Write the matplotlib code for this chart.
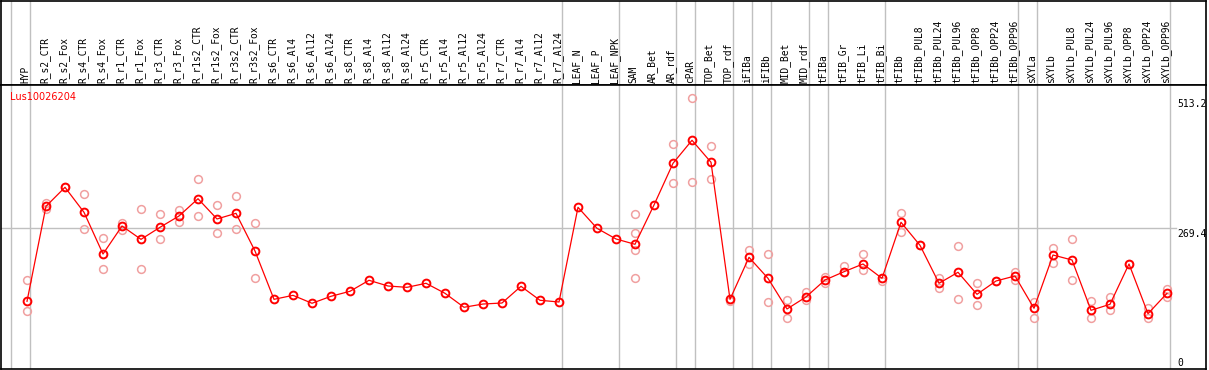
import matplotlib
matplotlib.use("Agg")
import matplotlib.pyplot as plt
import matplotlib.transforms as mtrans

categories = ["HYP", "R_s2_CTR", "R_s2_Fox", "R_s4_CTR", "R_s4_Fox", "R_r1_CTR", "R_r1_Fox",
              "R_r3_CTR", "R_r3_Fox", "R_r1s2_CTR", "R_r1s2_Fox", "R_r3s2_CTR", "R_r3s2_Fox",
              "R_s6_CTR", "R_s6_Al4", "R_s6_Al12", "R_s6_Al24", "R_s8_CTR", "R_s8_Al4",
              "R_s8_Al12", "R_s8_Al24", "R_r5_CTR", "R_r5_Al4", "R_r5_Al12", "R_r5_Al24",
              "R_r7_CTR", "R_r7_Al4", "R_r7_Al12", "R_r7_Al24", "LEAF_N", "LEAF_P", "LEAF_NPK",
              "SAM", "AR_Bet", "AR_rdf", "cPAR", "TOP_Bet", "TOP_rdf", "iFIBa", "iFIBb",
              "MID_Bet", "MID_rdf", "tFIBa", "tFIB_Gr", "tFIB_Li", "tFIB_Bi", "tFIBb",
              "tFIBb_PUL8", "tFIBb_PUL24", "tFIBb_PUL96", "tFIBb_OPP8", "tFIBb_OPP24",
              "tFIBb_OPP96", "sXYLa", "sXYLb", "sXYLb_PUL8", "sXYLb_PUL24", "sXYLb_PUL96",
              "sXYLb_OPP8", "sXYLb_OPP24", "sXYLb_OPP96"]

means = [132.4, 310.6, 346.2, 299.3, 221.1, 273.6, 248.6, 271.2, 292.4, 324.8, 286.8, 297.4,
         226.7, 136.1, 143.6, 128.7, 141.8, 151.2, 171.8, 161.1, 158.6, 166.2, 147.4, 121.2,
         127.3, 129.2, 160.5, 134.3, 131.1, 308.7, 269.3, 249.3, 239.3, 313.0, 391.2, 434.4,
         393.1, 136.1, 214.9, 175.5, 118.0, 140.5, 172.4, 187.9, 202.4, 175.5, 280.6, 237.4,
         166.2, 186.8, 145.5, 170.5, 179.9, 119.3, 219.2, 209.9, 115.5, 126.8, 202.4, 109.2,
         147.4]

# replicate values per category (empty list = no separate replicates shown)
replicates = [
    [171.8, 113.6], [317.4, 304.9], [346.2], [333.1, 267.4], [250.6, 192.4],
    [279.9, 266.1], [304.9, 192.4], [295.6, 248.6], [303.6, 281.7], [361.2, 291.8],
    [312.4, 259.9], [329.3, 267.4], [278.7, 175.5],
    [], [], [], [], [], [], [], [], [], [], [], [], [], [], [], [],
    [], [], [],
    [295.6, 259.9, 228.6, 175.5], [], [426.9, 353.7], [513.1, 355.6], [423.7, 361.2],
    [133.0], [228.6, 201.8], [220.6, 130.5], [134.8, 100.5], [149.3, 134.8],
    [178.5, 166.2], [199.2, 186.8], [221.1, 191.1], [170.5], [297.4, 261.8], [237.4],
    [176.7, 157.9], [235.6, 136.1], [166.2, 125.5], [170.5], [186.8, 172.4],
    [131.7, 100.5], [231.8, 203.7], [249.3, 171.8], [133.0, 100.5], [140.5, 115.5],
    [202.4], [119.3, 100.5], [155.5, 141.0],
]

gene_name = "Lus10026204"
ytick_values = [513.2, 269.4, 0]
ytick_labels = ["513.2", "269.4", "0"]
hgrid_value = 269.4
separators = [-1, 0, 28, 31, 34, 35, 37, 38, 39, 41, 42, 45, 52, 53, 60]

W, H = 1209, 370
fig = plt.figure(figsize=(W / 100, H / 100), dpi=100)

def fx(px):
    return px / W

def fy(py):
    return 1 - py / H

x0_px, x1_px = 1, 1206
top_px, mid_px, bot_px = 0.5, 85, 369
xlim = ((x0_px - 27) / 19, (x1_px - 27) / 19)
scale = 0.5332
ylim = ((371.9 - bot_px) / scale, (371.9 - mid_px) / scale)

hdr = fig.add_axes([fx(x0_px), fy(mid_px), fx(x1_px) - fx(x0_px), fy(top_px) - fy(mid_px)])
ax = fig.add_axes([fx(x0_px), fy(bot_px), fx(x1_px) - fx(x0_px), fy(mid_px) - fy(bot_px)])

grid_c = "#c0c0c0"
for a in (hdr, ax):
    a.set_xlim(*xlim)
    a.set_xticks([])
    a.set_yticks([])
    for s in a.spines.values():
        s.set_color("black")
        s.set_linewidth(1.2)
    for sidx in separators:
        a.axvline(sidx + 0.16, color=grid_c, lw=1.0, zorder=0)
hdr.set_ylim(0, 1)
ax.set_ylim(*ylim)

mono = "DejaVu Sans Mono"
for i, lab in enumerate(categories):
    hdr.text(i - 0.08, 0.025, lab, rotation=90, ha="center", va="bottom",
             fontsize=6.9, family=mono, color="black")

ax.plot([xlim[0], (1176 - 27) / 19], [hgrid_value, hgrid_value], color=grid_c, lw=1.0, zorder=0)

# replicates
for i, reps in enumerate(replicates):
    if reps:
        ax.plot([i] * len(reps), reps, linestyle="none", marker="o", markersize=5.6,
                markerfacecolor="none", markeredgecolor="#f0a0a0", markeredgewidth=1.1, zorder=2)

ax.plot(range(len(categories)), means, color="#ff0000", lw=0.9, marker="o", markersize=5.6,
        markerfacecolor="none", markeredgecolor="#ff0000", markeredgewidth=1.4, zorder=3)

ax.text(0.0075, 1 - (97 - mid_px) / (bot_px - mid_px), gene_name, transform=ax.transAxes,
        color="#ff0000", fontsize=7, family="DejaVu Sans", ha="left", va="center")

tr = mtrans.blended_transform_factory(ax.transAxes, ax.transData)
label_x = (1177 - x0_px) / (x1_px - x0_px)
for v, t in zip(ytick_values, ytick_labels):
    if v == 0:
        ax.text(label_x, v + 7, t, transform=tr, fontsize=7, family=mono, ha="left", va="bottom")
    else:
        ax.text(label_x, v - 2, t, transform=tr, fontsize=7, family=mono, ha="left", va="top")

fig.savefig("out.png", dpi=100)
